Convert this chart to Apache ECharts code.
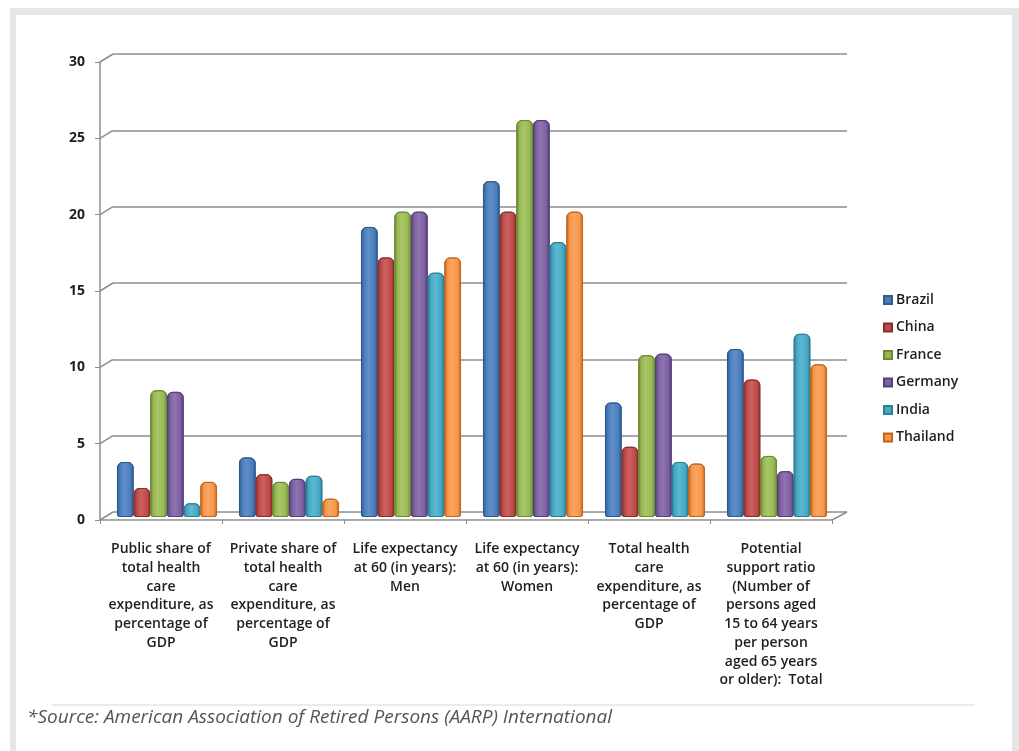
<!DOCTYPE html>
<html>
<head>
<meta charset="utf-8">
<script src="https://cdn.jsdelivr.net/npm/echarts@6/dist/echarts.min.js"></script>
<style>
  html, body { margin:0; padding:0; background:#ffffff; width:1019px; height:751px; overflow:hidden; }
  #frame { position:absolute; left:10px; top:8px; width:1009px; height:743px; background:#e6e6e8; }
  #inner { position:absolute; left:16px; top:15px; width:996px; height:736px; background:#ffffff; }
  #chart { position:absolute; left:0; top:0; width:1019px; height:751px; }
</style>
</head>
<body>
<div id="frame"></div>
<div id="inner"></div>
<div id="chart"></div>
<script>
const categories = [
  'Public share of\ntotal health\ncare\nexpenditure, as\npercentage of\nGDP',
  'Private share of\ntotal health\ncare\nexpenditure, as\npercentage of\nGDP',
  'Life expectancy\nat 60 (in years):\nMen',
  'Life expectancy\nat 60 (in years):\nWomen',
  'Total health\ncare\nexpenditure, as\npercentage of\nGDP',
  'Potential\nsupport ratio\n(Number of\npersons aged\n15 to 64 years\nper person\naged 65 years\nor older):  Total'
];
const brazil   = [3.6, 3.9, 19, 22, 7.5, 11];
const china    = [1.9, 2.8, 17, 20, 4.6, 9];
const france   = [8.3, 2.3, 20, 26, 10.6, 4];
const germany  = [8.2, 2.5, 20, 26, 10.7, 3];
const india    = [0.9, 2.7, 16, 18, 3.6, 12];
const thailand = [2.3, 1.2, 17, 20, 3.5, 10];
const seriesNames = ['Brazil', 'China', 'France', 'Germany', 'India', 'Thailand'];
const seriesData = [brazil, china, france, germany, india, thailand];
const yTicks = [0, 5, 10, 15, 20, 25, 30];
const sourceNote = '*Source: American Association of Retired Persons (AARP) International';

const fills   = ['#4a7ebb', '#be4b48', '#98b954', '#7d60a0', '#46aac5', '#f79646'];
const borders = ['#2f5a8e', '#8a2e2c', '#6c8a35', '#55407a', '#2d7d94', '#c0661f'];
const lights  = ['#5f8fca', '#cc615e', '#a8c768', '#8f74b2', '#5db9d2', '#f9a664'];

function cyl(i) {
  return new echarts.graphic.LinearGradient(0, 0, 1, 0, [
    { offset: 0, color: borders[i] },
    { offset: 0.2, color: fills[i] },
    { offset: 0.45, color: lights[i] },
    { offset: 0.8, color: fills[i] },
    { offset: 1, color: borders[i] }
  ]);
}

const chart = echarts.init(document.getElementById('chart'), null, { renderer: 'canvas' });
const FONT = '"Open Sans", "DejaVu Sans", sans-serif';
const gridColor = '#8e8e8e';

const option = {
  backgroundColor: 'transparent',
  animation: false,
  textStyle: { fontFamily: FONT },
  grid: [
    { left: 100, top: 62, width: 732, height: 458 },   // front axes
    { left: 113, top: 54, width: 734, height: 458 },   // back wall
    { left: 106, top: 59, width: 732, height: 458 }    // bars
  ],
  xAxis: [
    { gridIndex: 0, type: 'category', data: categories, boundaryGap: true,
      axisLine: { show: true, lineStyle: { color: gridColor, width: 1.5 } },
      axisTick: { show: true, inside: false, length: 4, alignWithLabel: false, lineStyle: { color: gridColor } },
      axisLabel: { interval: 0, margin: 20, color: '#1e1e1e', fontSize: 14, fontWeight: 600, lineHeight: 18.7, fontFamily: FONT, align: 'center', verticalAlign: 'top' },
      splitLine: { show: false } },
    { gridIndex: 1, type: 'category', data: categories, show: false },
    { gridIndex: 2, type: 'category', data: categories, show: false }
  ],
  yAxis: [
    { gridIndex: 0, type: 'value', min: 0, max: 30, interval: 5,
      axisLine: { show: true, lineStyle: { color: gridColor, width: 1.5 } },
      axisTick: { show: true, length: 5, lineStyle: { color: gridColor } },
      axisLabel: { margin: 15, color: '#1e1e1e', fontSize: 14, fontWeight: 700, fontFamily: FONT },
      splitLine: { show: false } },
    { gridIndex: 1, type: 'value', min: 0, max: 30, interval: 5,
      axisLine: { show: false }, axisTick: { show: false }, axisLabel: { show: false },
      splitLine: { show: true, lineStyle: { color: gridColor, width: 1.5 } } },
    { gridIndex: 2, type: 'value', min: 0, max: 30, interval: 5, show: false, splitLine: { show: false } }
  ],
  legend: {
    orient: 'vertical', left: 878, top: 288,
    itemWidth: 8, itemHeight: 8, itemGap: 13.5, icon: 'rect',
    textStyle: { color: '#1e1e1e', fontSize: 14, fontWeight: 600, fontFamily: FONT, padding: [0, 0, 0, -1] },
    data: seriesNames.map((n, i) => ({ name: n, itemStyle: { color: fills[i] } }))
  },
  series: seriesNames.map((n, i) => ({
    name: n, type: 'bar', xAxisIndex: 2, yAxisIndex: 2,
    data: seriesData[i],
    color: fills[i],
    barGap: '0%', barCategoryGap: '18%',
    itemStyle: { color: cyl(i), borderColor: borders[i], borderWidth: 1, borderRadius: [5, 5, 2, 2] }
  }))
};
chart.setOption(option);

function decorate() {
  const els = [];
  yTicks.forEach(v => {
    const yf = chart.convertToPixel({ yAxisIndex: 0 }, v);
    const yb = chart.convertToPixel({ yAxisIndex: 1 }, v);
    els.push({ type: 'line', silent: true, z: 1,
      shape: { x1: 100, y1: yf, x2: 113, y2: yb },
      style: { stroke: gridColor, lineWidth: 1.5 } });
  });
  const yf0 = chart.convertToPixel({ yAxisIndex: 0 }, 0);
  const yb0 = chart.convertToPixel({ yAxisIndex: 1 }, 0);
  els.push({ type: 'line', silent: true, z: 1,
    shape: { x1: 832, y1: yf0, x2: 847, y2: yb0 },
    style: { stroke: gridColor, lineWidth: 1.5 } });
  els.push({ type: 'line', silent: true, shape: { x1: 52, y1: 705, x2: 975, y2: 705 },
    style: { stroke: '#e4e4e4', lineWidth: 1.5 } });
  els.push({ type: 'text', silent: true, left: 27, top: 708,
    style: { text: sourceNote, font: 'italic 19px ' + FONT, fill: '#555' } });
  chart.setOption({ graphic: { elements: els } });
}
decorate();
</script>
</body>
</html>
